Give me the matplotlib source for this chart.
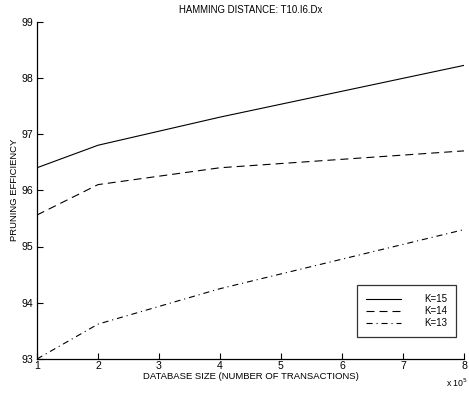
import matplotlib
matplotlib.use("Agg")
import matplotlib.pyplot as plt

plt.rcParams['font.family'] = ['Liberation Sans', 'DejaVu Sans']

# database size in units of 10^5 transactions
db_size = [1, 2, 4, 8]
k15 = [96.4, 96.8, 97.3, 98.22]
k14 = [95.56, 96.1, 96.4, 96.7]
k13 = [93.0, 93.62, 94.25, 95.3]
x_ticks = [1, 2, 3, 4, 5, 6, 7, 8]
y_ticks = [93, 94, 95, 96, 97, 98, 99]

fig = plt.figure(figsize=(4.69, 3.93), dpi=100)
ax = fig.add_axes([37 / 469, 34 / 393, 427 / 469, 337.5 / 393])

ax.plot(db_size, k15, color='black', lw=0.8, ls='-', label='K=15')
ax.plot(db_size, k14, color='black', lw=0.8, ls=(0, (7.2, 4.5)), label='K=14')
ax.plot(db_size, k13, color='black', lw=0.8, ls=(0, (5.5, 3.5, 1, 3.5)), label='K=13')

ax.set_xlim(1, 8)
ax.set_ylim(93, 99)
ax.set_xticks(x_ticks)
ax.set_yticks(y_ticks)
ax.tick_params(direction='in', length=4, width=0.8, labelsize=7.6)
ax.tick_params(axis='y', pad=2.6)
ax.tick_params(axis='x', pad=1.5)
for s in ('top', 'right'):
    ax.spines[s].set_visible(False)
for s in ('left', 'bottom'):
    ax.spines[s].set_linewidth(0.9)

ax.set_title('HAMMING DISTANCE: T10.I6.Dx', fontsize=6.9, pad=6)
ax.set_xlabel('DATABASE SIZE (NUMBER OF TRANSACTIONS)', fontsize=6.8, labelpad=1)
ax.set_ylabel('PRUNING EFFICIENCY', fontsize=6.8, labelpad=2)
fig.text(457 / 469, 1 - 383 / 393, r'x 10$^5$', fontsize=6.3, ha='center', va='center')

leg = ax.legend(loc='upper left', bbox_to_anchor=(0.749, 0.219), borderaxespad=0,
                fontsize=7, frameon=True, fancybox=False, edgecolor='black',
                handlelength=3.6, handletextpad=2.35, borderpad=0.95,
                labelspacing=0.2)
leg.get_frame().set_linewidth(0.9)

fig.savefig('out.png', dpi=100)
